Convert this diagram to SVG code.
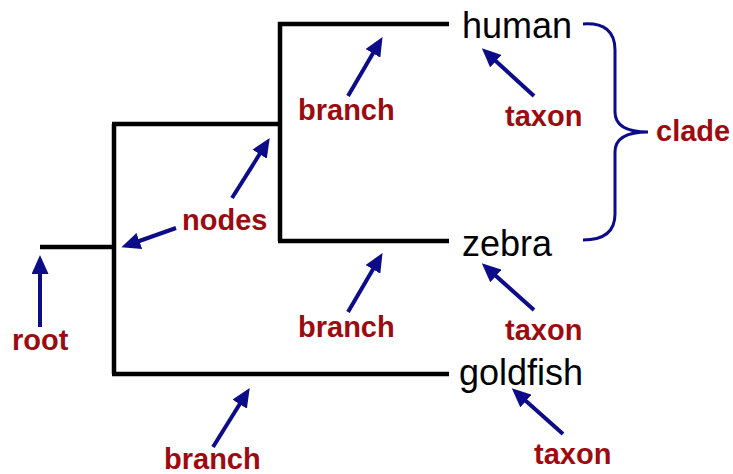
<svg xmlns="http://www.w3.org/2000/svg" width="733" height="474" viewBox="0 0 733 474">
<style>
.tree{fill:none;stroke:#000;stroke-width:4.5;stroke-linejoin:miter;stroke-linecap:butt}
.arr{fill:none;stroke:#0c0c8a;stroke-width:4}
.brace{fill:none;stroke:#0c0c8a;stroke-width:3}
.taxa{font-family:"Liberation Sans",Arial,sans-serif;font-size:36px;fill:#000}
.lbl{font-family:"Liberation Sans",Arial,sans-serif;font-size:29px;font-weight:bold;fill:#9c0b0f}
</style>
<defs>
<marker id="ah" markerUnits="userSpaceOnUse" markerWidth="19" markerHeight="17" refX="12" refY="8.5" orient="auto">
<path d="M0,0 L19,8.5 L0,17 z" fill="#0c0c8a"/>
</marker>
</defs>
<g id="tree">
<path class="tree" d="M40,247 H114 M114,124 V374 M112,124 H280 M280,22 V241 M278,24 H449 M278,241 H449 M112,374 H449"/>
</g>
<g id="taxon-human"><text class="taxa" x="462" y="38">human</text></g>
<g id="taxon-zebra"><text class="taxa" x="462" y="256">zebra</text></g>
<g id="taxon-goldfish"><text class="taxa" x="459" y="385">goldfish</text></g>
<g id="label-root"><text class="lbl" x="12" y="350">root</text></g>
<g id="label-nodes"><text class="lbl" x="182" y="230">nodes</text></g>
<g id="label-branch1"><text class="lbl" x="298" y="120">branch</text></g>
<g id="label-branch2"><text class="lbl" x="298" y="337">branch</text></g>
<g id="label-branch3"><text class="lbl" x="164" y="469">branch</text></g>
<g id="label-taxon1"><text class="lbl" x="505" y="126">taxon</text></g>
<g id="label-taxon2"><text class="lbl" x="505" y="340">taxon</text></g>
<g id="label-taxon3"><text class="lbl" x="534" y="464">taxon</text></g>
<g id="label-clade"><text class="lbl" x="656" y="141">clade</text></g>
<g id="clade-brace">
<path class="brace" d="M583,24 Q615,22 615,50 L615,112 Q615,132 648,132 Q615,132 615,152 L615,214 Q615,240 583,240"/>
</g>
<g id="connectors">
<line class="arr" x1="348" y1="96" x2="379" y2="43" marker-end="url(#ah)"/>
<line class="arr" x1="348" y1="312" x2="379" y2="259" marker-end="url(#ah)"/>
<line class="arr" x1="213" y1="447" x2="246" y2="394" marker-end="url(#ah)"/>
<line class="arr" x1="232" y1="198" x2="266" y2="144" marker-end="url(#ah)"/>
<line class="arr" x1="176" y1="228" x2="128" y2="245" marker-end="url(#ah)"/>
<line class="arr" x1="40" y1="327" x2="40" y2="262" marker-end="url(#ah)"/>
<line class="arr" x1="534" y1="96" x2="487" y2="53" marker-end="url(#ah)"/>
<line class="arr" x1="534" y1="310" x2="487" y2="268" marker-end="url(#ah)"/>
<line class="arr" x1="563" y1="434" x2="517" y2="393" marker-end="url(#ah)"/>
</g>
</svg>
